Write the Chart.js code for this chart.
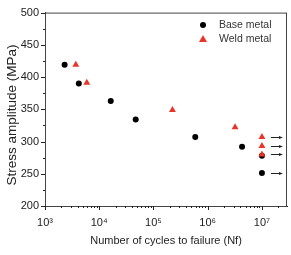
<!DOCTYPE html>
<html>
<head>
<meta charset="UTF-8">
<script src="https://cdn.jsdelivr.net/npm/chart.js@4/dist/chart.umd.min.js"></script>
<style>
  html, body { margin: 0; padding: 0; background: #fff; }
  #wrap { width: 291px; height: 255px; }
</style>
</head>
<body>
<div id="wrap"><canvas id="c" width="291" height="255"></canvas></div>
<script>
// cycles to failure / stress amplitude
const baseCycles = [2300, 4200, 16300, 47000, 590000, 4300000, 10000000, 10000000];
const baseStress = [419, 390, 363, 334, 307, 292, 278, 251];
const weldCycles = [3700, 5900, 224000, 3200000, 10000000, 10000000, 10000000];
const weldStress = [419, 391, 349, 322, 307, 293, 280];
// run-outs (no failure at 1e7 cycles)
const runoutCycles = [10000000, 10000000, 10000000, 10000000];
const runoutStress = [307, 293, 280, 251];

const xTicks = [1e3, 1e4, 1e5, 1e6, 1e7];
const xTickLabels = ['10³', '10⁴', '10⁵', '10⁶', '10⁷'];
const legendLabels = ['Base metal', 'Weld metal'];
const yTitle = 'Stress amplitude (MPa)';

const FONT = '"Liberation Sans", Arial, sans-serif';

const toXY = (xs, ys) => xs.map((x, i) => ({ x: x, y: ys[i] }));

const framePlugin = {
  id: 'frame',
  afterDraw(chart) {
    const ctx = chart.ctx;
    const a = chart.chartArea;
    const xs = chart.scales.x, ys = chart.scales.y;
    ctx.save();
    ctx.strokeStyle = '#444';
    ctx.lineWidth = 1;
    ctx.strokeRect(a.left + 0.5, a.top + 0.5, a.right - a.left - 1, a.bottom - a.top);

    // y ticks, outward
    ctx.strokeStyle = '#222';
    for (let v = 200; v <= 500; v += 25) {
      const py = Math.round(ys.getPixelForValue(v)) + 0.5;
      const len = (v % 50 === 0) ? 4 : 2;
      ctx.beginPath();
      ctx.moveTo(a.left, py);
      ctx.lineTo(a.left - len, py);
      ctx.stroke();
    }
    // x ticks, outward, major + minor
    for (let e = 3; e <= 7; e++) {
      for (let m = 1; m <= 9; m++) {
        const v = m * Math.pow(10, e);
        if (v > xs.max) break;
        const px = Math.round(xs.getPixelForValue(v)) + 0.5;
        const len = (m === 1) ? 4 : 2;
        ctx.beginPath();
        ctx.moveTo(px, a.bottom);
        ctx.lineTo(px, a.bottom + len);
        ctx.stroke();
      }
    }

    // run-out arrows
    ctx.strokeStyle = '#222';
    ctx.fillStyle = '#222';
    runoutCycles.forEach((c, i) => {
      const px = xs.getPixelForValue(c);
      const py = Math.round(ys.getPixelForValue(runoutStress[i])) + 0.5;
      const x0 = px + 9, x1 = px + 21;
      ctx.beginPath();
      ctx.moveTo(x0, py);
      ctx.lineTo(x1 - 3, py);
      ctx.stroke();
      ctx.beginPath();
      ctx.moveTo(x1, py);
      ctx.lineTo(x1 - 4, py - 1.6);
      ctx.lineTo(x1 - 4, py + 1.6);
      ctx.closePath();
      ctx.fill();
    });

    // legend inside plot
    const lx = 203, ly = [25, 39];
    ctx.font = '10.5px ' + FONT;
    ctx.textBaseline = 'middle';
    ctx.fillStyle = '#000';
    ctx.beginPath();
    ctx.arc(lx, ly[0], 3, 0, Math.PI * 2);
    ctx.fill();
    ctx.fillStyle = '#e8352a';
    ctx.beginPath();
    ctx.moveTo(lx, ly[1] - 4);
    ctx.lineTo(lx + 4, ly[1] + 3);
    ctx.lineTo(lx - 4, ly[1] + 3);
    ctx.closePath();
    ctx.fill();
    ctx.fillStyle = '#333';
    ctx.fillText(legendLabels[0], 219, ly[0]);
    ctx.fillText(legendLabels[1], 219, ly[1]);

    // y axis title
    ctx.translate(12, 115);
    ctx.rotate(-Math.PI / 2);
    ctx.textAlign = 'center';
    ctx.font = '13.5px ' + FONT;
    ctx.fillStyle = '#222';
    ctx.fillText(yTitle, 0, 0);
    ctx.restore();
  }
};

new Chart(document.getElementById('c'), {
  type: 'scatter',
  data: {
    datasets: [
      {
        label: legendLabels[0],
        data: toXY(baseCycles, baseStress),
        pointStyle: 'circle',
        pointRadius: 3,
        backgroundColor: '#000',
        borderColor: '#000',
        borderWidth: 0,
        order: 1
      },
      {
        label: legendLabels[1],
        data: toXY(weldCycles, weldStress),
        pointStyle: 'triangle',
        pointRadius: 4,
        backgroundColor: '#e8352a',
        borderColor: '#e8352a',
        borderWidth: 0,
        order: 0
      }
    ]
  },
  options: {
    responsive: false,
    animation: false,
    layout: { padding: { top: 7, right: 3, left: 0, bottom: 0 } },
    plugins: {
      legend: { display: false },
      tooltip: { enabled: false }
    },
    scales: {
      x: {
        type: 'logarithmic',
        min: 1000,
        max: 29000000,
        afterBuildTicks(s) { s.ticks = xTicks.map(v => ({ value: v })); },
        afterFit(s) { s.height = 49; },
        grid: { display: false, drawTicks: false },
        border: { display: true, color: '#222', width: 1 },
        ticks: {
          autoSkip: false,
          maxRotation: 0,
          padding: 10,
          color: '#222',
          font: { family: FONT, size: 11 },
          callback(v) {
            const i = xTicks.indexOf(v);
            return i >= 0 ? xTickLabels[i] : '';
          }
        },
        title: {
          display: true,
          text: 'Number of cycles to failure (Nf)',
          color: '#222',
          font: { family: FONT, size: 11 },
          padding: { top: 4, bottom: 7 }
        }
      },
      y: {
        min: 200,
        max: 500,
        afterFit(s) { s.width = 45; },
        grid: { display: false, drawTicks: false },
        border: { display: true, color: '#222', width: 1 },
        ticks: {
          stepSize: 50,
          padding: 6,
          color: '#222',
          font: { family: FONT, size: 11 }
        }
      }
    }
  },
  plugins: [framePlugin]
});
</script>
</body>
</html>
